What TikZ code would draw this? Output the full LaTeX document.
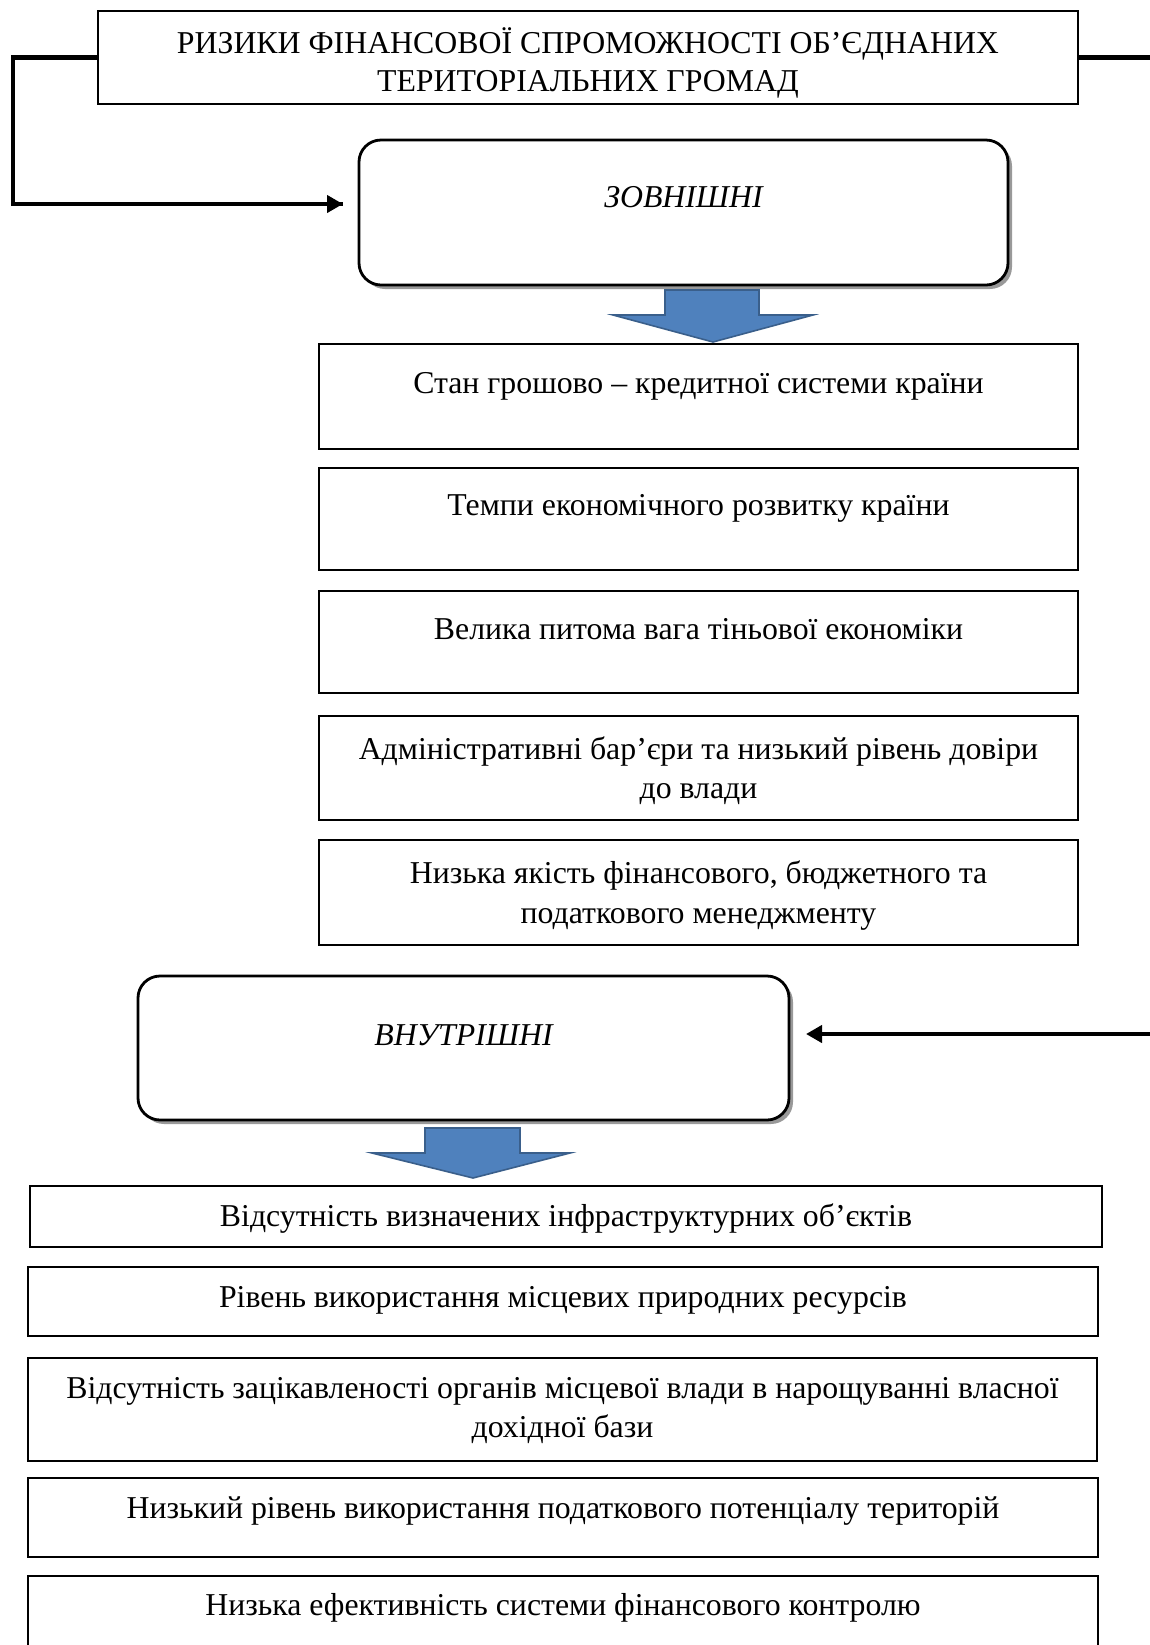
\documentclass[tikz,border=0pt]{standalone}
\usepackage{fontspec}
\setmainfont{Liberation Serif}
\usetikzlibrary{calc,arrows.meta,shadows}
\definecolor{blk}{HTML}{4F81BD}
\definecolor{blkedge}{HTML}{3A5F8B}
\begin{document}
\begin{tikzpicture}[x=0.5pt,y=-0.5pt,
  boxst/.style={draw, line width=1.4pt, inner sep=0pt, outer sep=0pt},
  rbox/.style={boxst, rounded corners=11pt, fill=white,
    drop shadow={shadow xshift=2pt, shadow yshift=-2pt, fill=black!40, opacity=1}},
  txt/.style={inner sep=0pt, anchor=base, font=\fontsize{15.9}{19}\selectfont},
  conn/.style={line width=2.4pt, -{Triangle[length=8pt,width=8.5pt]}},
  plain/.style={line width=2.4pt},
  blockarrow/.style={fill=blk, draw=blkedge, line width=0.8pt, line join=miter}
]
\useasboundingbox (0,0) rectangle (1150,1645);

% title
\node[boxst, minimum width=490pt, minimum height=46.5pt] (title) at (588,57.5) {};
\node[txt] (tt1) at (588,53) {РИЗИКИ ФІНАНСОВОЇ СПРОМОЖНОСТІ ОБ’ЄДНАНИХ};
\node[txt] (tt2) at (588,91) {ТЕРИТОРІАЛЬНИХ ГРОМАД};

% external
\node[rbox, minimum width=324.5pt, minimum height=72.5pt] (zov) at (683.5,212.5) {};
\node[txt, font=\fontsize{15.9}{19}\selectfont\itshape] (zovt) at (683.5,207) {ЗОВНІШНІ};

\draw[blockarrow] (665,290) -- (759,290) -- (759,315) -- (813,315) -- (713,342)
  -- (613,315) -- (665,315) -- cycle;

% external factors
\node[boxst, minimum width=379.5pt, minimum height=52.5pt] (e1) at (698.5,396.5) {};
\node[txt] (e1t) at (698.5,393) {Стан грошово – кредитної системи країни};
\node[boxst, minimum width=379.5pt, minimum height=51pt] (e2) at (698.5,519) {};
\node[txt] (e2t) at (698.5,515) {Темпи економічного розвитку країни};
\node[boxst, minimum width=379.5pt, minimum height=51pt] (e3) at (698.5,642) {};
\node[txt] (e3t) at (698.5,639) {Велика питома вага тіньової економіки};
\node[boxst, minimum width=379.5pt, minimum height=52pt] (e4) at (698.5,768) {};
\node[txt] (e4t) at (698.5,759) {Адміністративні бар’єри та низький рівень довіри};
\node[txt] (e4u) at (698.5,798) {до влади};
\node[boxst, minimum width=379.5pt, minimum height=52.5pt] (e5) at (698.5,892.5) {};
\node[txt] (e5t) at (698.5,883) {Низька якість фінансового, бюджетного та};
\node[txt] (e5u) at (698.5,923) {податкового менеджменту};

% internal
\node[rbox, minimum width=325.5pt, minimum height=72pt] (vnu) at (463.5,1048) {};
\node[txt, font=\fontsize{15.9}{19}\selectfont\itshape] (vnut) at (463.5,1045) {ВНУТРІШНІ};

\draw[blockarrow] (425,1128) -- (520,1128) -- (520,1153) -- (570,1153) -- (473,1178)
  -- (372,1153) -- (425,1153) -- cycle;

% internal factors
\node[boxst, minimum width=536pt, minimum height=30.5pt] (i1) at (566,1216.5) {};
\node[txt] (i1t) at (566,1226) {Відсутність визначених інфраструктурних об’єктів};
\node[boxst, minimum width=535pt, minimum height=34.5pt] (i2) at (563,1301.5) {};
\node[txt] (i2t) at (563,1307) {Рівень використання місцевих природних ресурсів};
\node[boxst, minimum width=534.5pt, minimum height=51.5pt] (i3) at (562.5,1409.5) {};
\node[txt] (i3t) at (562.5,1398) {Відсутність зацікавленості органів місцевої влади в нарощуванні власної};
\node[txt] (i3u) at (562.5,1437) {дохідної бази};
\node[boxst, minimum width=535pt, minimum height=39.5pt] (i4) at (563,1517.5) {};
\node[txt] (i4t) at (563,1518) {Низький рівень використання податкового потенціалу територій};
\node[boxst, minimum width=535pt, minimum height=42pt] (i5) at (563,1618) {};
\node[txt] (i5t) at (563,1615) {Низька ефективність системи фінансового контролю};

% connectors
\coordinate (lcorner) at (13,57.5);
\coordinate (rtop) at (1150,57.5);
\coordinate (rlow) at (1150,1034);
\coordinate (ztip) at ($(zov.west)+(-16,-8.5)$);
\coordinate (vtip) at ($(vnu.east)+(17,-14)$);
\draw[line width=2.4pt] (title.west) -- (lcorner) |- (ztip);
\draw[conn] (lcorner |- ztip) -- (ztip);
\draw[plain] (title.east) -- (rtop);
\draw[conn] (rlow) -- (vtip);
\end{tikzpicture}
\end{document}
